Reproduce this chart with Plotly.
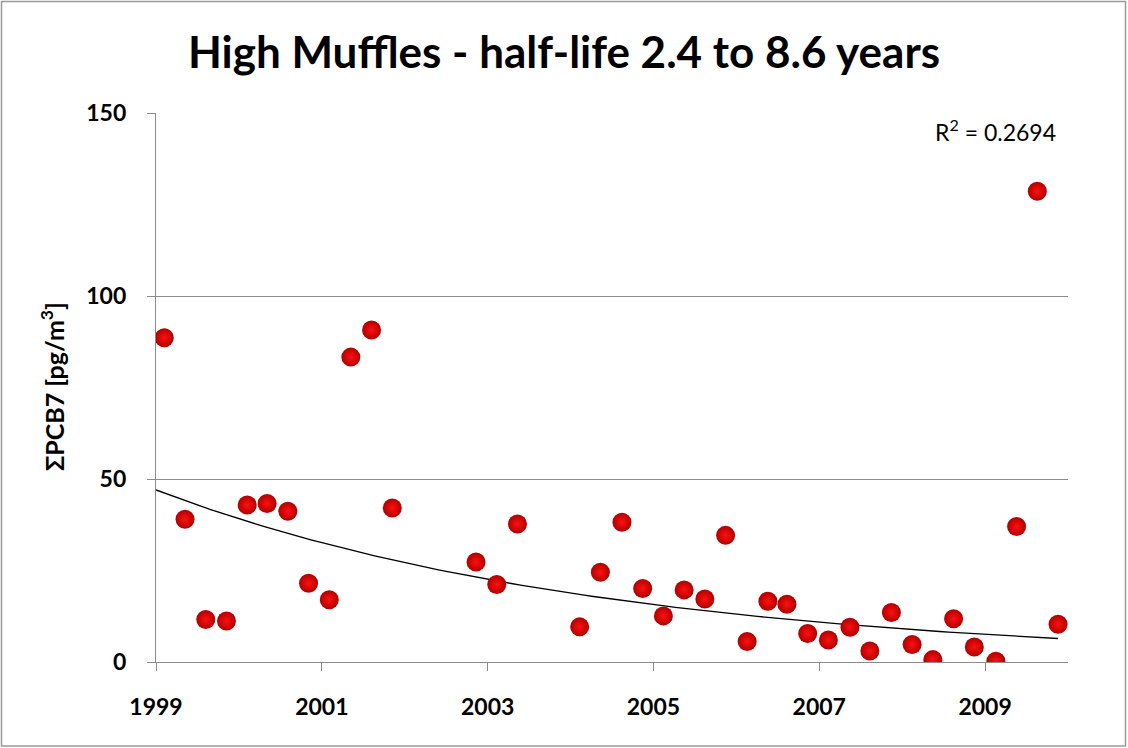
import plotly.graph_objects as go
import numpy as np

# Sample dates (decimal years) and ΣPCB7 values (pg/m³)
years = [1999.10, 1999.35, 1999.60, 1999.85, 2000.10, 2000.34, 2000.59, 2000.84,
         2001.09, 2001.35, 2001.60, 2001.85, 2002.86, 2003.11, 2003.36, 2004.11,
         2004.36, 2004.62, 2004.87, 2005.12, 2005.37, 2005.62, 2005.87, 2006.13,
         2006.38, 2006.61, 2006.86, 2007.11, 2007.37, 2007.61, 2007.87, 2008.12,
         2008.37, 2008.62, 2008.87, 2009.13, 2009.38, 2009.63, 2009.88]
pcb7 = [88.6, 39.0, 11.6, 11.2, 42.9, 43.3, 41.2, 21.5,
        17.0, 83.3, 90.7, 42.1, 27.3, 21.2, 37.7, 9.6,
        24.5, 38.2, 20.1, 12.6, 19.7, 17.2, 34.6, 5.6,
        16.6, 15.8, 7.8, 6.0, 9.5, 3.0, 13.5, 4.8,
        0.65, 11.8, 4.1, 0.2, 37.0, 128.6, 10.3]

# Exponential trendline: y = A * exp(K * (x - X0))
trend_x0 = 1999.0
trend_x1 = 2009.88
trend_a = 47.0
trend_k = -0.183
r2_label = "R<sup>2</sup> = 0.2694"

x_ticks = [1999, 2001, 2003, 2005, 2007, 2009]
y_ticks = [0, 50, 100, 150]

tx = np.linspace(trend_x0, trend_x1, 100)
ty = trend_a * np.exp(trend_k * (tx - trend_x0))

fig = go.Figure()
fig.add_trace(go.Scatter(x=tx, y=ty, mode="lines",
                         line=dict(color="black", width=1.3),
                         showlegend=False, hoverinfo="skip"))
fig.add_trace(go.Scatter(x=years, y=pcb7, mode="markers",
                         marker=dict(size=19, color="#b00000",
                                     gradient=dict(type="radial", color="#ff1010"),
                                     line=dict(width=0)),
                         showlegend=False))

L, R, T, B = 156, 60, 113, 86
W, H = 1128, 748
pw, ph = W - L - R, H - T - B

def px_to_paper_x(px):
    return (px - L) / pw

def px_to_paper_y(py):
    return (H - B - py) / ph

FONT = "Lato"

fig.update_layout(
    width=W, height=H,
    margin=dict(l=L, r=R, t=T, b=B),
    paper_bgcolor="white", plot_bgcolor="white",
    title=dict(text="<b>High Muffles - half-life 2.4 to 8.6 years</b>",
               x=0.5, xanchor="center", y=1 - 53 / H, yanchor="middle",
               font=dict(family=FONT, size=44, color="black")),
    xaxis=dict(range=[1999, 2010], tickvals=x_ticks, ticktext=[str(v) for v in x_ticks],
               showgrid=False, zeroline=False, showline=True, linecolor="#8c8c8c",
               linewidth=1.3, ticks="outside", ticklen=8, tickcolor="#8c8c8c",
               tickfont=dict(family=FONT, size=23, color="black", weight="bold"),
               ticklabelstandoff=16),
    yaxis=dict(range=[0, 150], tickvals=y_ticks, showgrid=True, gridcolor="#8c8c8c",
               gridwidth=1.3, zeroline=False, showline=True, linecolor="#8c8c8c",
               linewidth=1.3, ticks="outside", ticklen=8, tickcolor="#8c8c8c",
               tickfont=dict(family=FONT, size=23, color="black", weight="bold"),
               ticklabelstandoff=16),
    annotations=[
        dict(text="<b>ΣPCB7 [pg/m<sup>3</sup>]</b>", textangle=-90,
             x=px_to_paper_x(52), y=px_to_paper_y(387), xref="paper", yref="paper",
             xanchor="center", yanchor="middle", showarrow=False,
             font=dict(family=FONT, size=25, color="black")),
        dict(text=r2_label, x=px_to_paper_x(1058), y=px_to_paper_y(130),
             xref="paper", yref="paper", xanchor="right", yanchor="middle",
             showarrow=False, font=dict(family=FONT, size=23, color="black")),
    ],
    shapes=[dict(type="rect", xref="paper", yref="paper",
                 x0=px_to_paper_x(1.5), x1=px_to_paper_x(1125.5),
                 y0=px_to_paper_y(746), y1=px_to_paper_y(1.5),
                 line=dict(color="#9a9a9a", width=1.5), layer="below")],
)

fig.write_html("out.html", config={"displayModeBar": False},
               post_script="document.body.style.margin='0';document.body.style.overflow='hidden';")
